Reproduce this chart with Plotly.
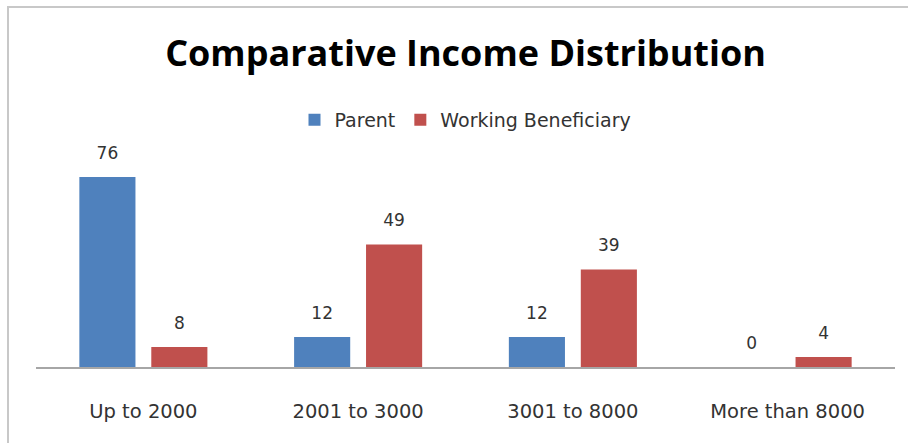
import plotly.graph_objects as go

categories = ["Up to 2000", "2001 to 3000", "3001 to 8000", "More than 8000"]
parent = [76, 12, 12, 0]
working_beneficiary = [8, 49, 39, 4]
series_names = ["Parent", "Working Beneficiary"]
series_colors = ["#4F81BD", "#C0504D"]

TEXT_FONT = "DejaVu Sans"
TITLE_FONT = "Open Sans"
LABEL_COLOR = "#333333"
W, H = 908, 443
GAP = 0.33

fig = go.Figure()
for i, (name, values, color) in enumerate(
        zip(series_names, [parent, working_beneficiary], series_colors)):
    fig.add_trace(go.Bar(
        name=name, x=categories, y=values,
        marker=dict(color=color, line=dict(width=0)),
        offsetgroup=str(i), hoverinfo="x+y",
    ))
    # value labels, grouped the same way as the bars
    fig.add_trace(go.Scatter(
        x=categories, y=values, mode="markers+text",
        text=[str(v) for v in values], textposition="top center",
        textfont=dict(family=TEXT_FONT, size=17, color=LABEL_COLOR),
        marker=dict(size=21, opacity=0),
        offsetgroup=str(i), showlegend=False, hoverinfo="skip",
        cliponaxis=False,
    ))

fig.update_layout(
    width=W, height=H,
    margin=dict(l=36, r=13, t=167, b=76),
    paper_bgcolor="white", plot_bgcolor="white",
    barmode="group", bargap=GAP, bargroupgap=0.22,
    scattermode="group", scattergap=GAP,
    title=dict(
        text="<b>Comparative Income Distribution</b>",
        font=dict(family=TITLE_FONT, size=36, color="black"),
        x=0.5, xref="paper", xanchor="center",
        y=1 - 53 / H, yref="container", yanchor="middle",
    ),
    legend=dict(
        orientation="h", x=0.5, xanchor="center", xref="paper",
        y=1.235, yanchor="middle",
        font=dict(family=TEXT_FONT, size=19, color=LABEL_COLOR),
        itemsizing="constant", traceorder="normal",
    ),
    xaxis=dict(
        showline=True, linecolor="#a6a6a6", linewidth=1.5,
        ticks="", ticklabelstandoff=26,
        tickfont=dict(family=TEXT_FONT, size=19.5, color=LABEL_COLOR),
        showgrid=False, zeroline=False,
    ),
    yaxis=dict(
        range=[0, 80], visible=False, showgrid=False, zeroline=False,
    ),
    shapes=[dict(
        type="rect", xref="paper", yref="paper",
        x0=(8 - 36) / 859, x1=1.2, y0=-0.5, y1=(367 - 7) / 200,
        line=dict(color="#c8c8c8", width=2), fillcolor="rgba(0,0,0,0)",
        layer="below",
    )],
)

fig.write_html("out.html")
